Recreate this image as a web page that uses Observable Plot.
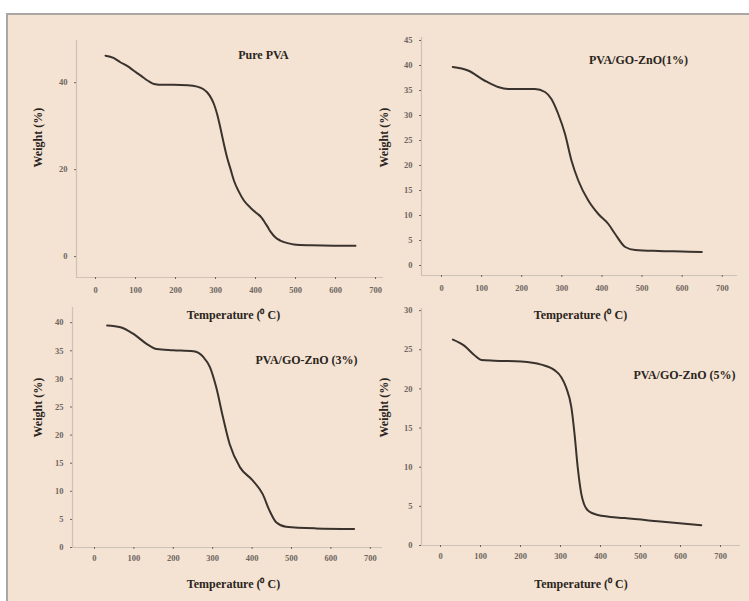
<!DOCTYPE html>
<html><head><meta charset="utf-8">
<script src="https://cdn.jsdelivr.net/npm/d3@7"></script>
<script src="https://cdn.jsdelivr.net/npm/@observablehq/plot@0.6"></script>
<style>
body{margin:0;background:#fff;}
#wrap{position:relative;width:749px;height:601px;overflow:hidden;background:#fff;}
#bg{position:absolute;left:6px;top:13px;right:0;bottom:0;background:#f4e3d3;border-left:2px solid #a9a6a4;border-top:2px solid #a9a6a4;}
#wrap svg{position:absolute;left:0;top:0;}
</style></head><body><div id="wrap"><div id="bg"></div></div>
<script>
// ---- data ----
const xTicks = [0, 100, 200, 300, 400, 500, 600, 700];
const xTitle = "Temperature (\u2070 C)";
const yTitle = "Weight (%)";

const pureName = "Pure PVA";
const pureT = [25, 45, 62, 80, 95, 115, 130, 146, 170, 196, 230, 254, 270, 279, 290, 296, 304, 312, 320, 329, 338, 346, 358, 371, 388, 404, 414, 421, 430, 438, 450, 462, 480, 496, 540, 596, 650];
const pureW = [46.2, 45.7, 44.7, 43.8, 42.8, 41.5, 40.5, 39.7, 39.5, 39.5, 39.4, 39.1, 38.5, 37.8, 36.3, 35.1, 32.8, 29.7, 26.3, 22.8, 20.0, 17.5, 15.0, 12.9, 11.2, 9.9, 9.1, 8.2, 6.9, 5.7, 4.4, 3.7, 3.1, 2.8, 2.6, 2.5, 2.5];
const pureYTicks = [0, 20, 40];

const zno1Name = "PVA/GO-ZnO(1%)";
const zno1T = [28, 66, 107, 141, 166, 200, 233, 258, 274, 291, 308, 324, 341, 366, 391, 416, 433, 458, 483, 541, 600, 649];
const zno1W = [39.7, 39.0, 37.0, 35.7, 35.3, 35.3, 35.3, 34.7, 33.3, 30.3, 26.3, 21.0, 17.0, 13.0, 10.3, 8.3, 6.3, 3.7, 3.1, 2.9, 2.8, 2.7];
const zno1YTicks = [0, 5, 10, 15, 20, 25, 30, 35, 40, 45];

const zno3Name = "PVA/GO-ZnO (3%)";
const zno3T = [32, 66, 99, 133, 158, 200, 251, 276, 293, 309, 326, 343, 369, 402, 427, 444, 461, 486, 562, 659];
const zno3W = [39.5, 39.2, 38.0, 36.2, 35.3, 35.1, 34.9, 33.9, 32.1, 28.5, 23.2, 18.4, 14.3, 11.9, 9.5, 6.6, 4.5, 3.7, 3.4, 3.3];
const zno3YTicks = [0, 5, 10, 15, 20, 25, 30, 35, 40];

const zno5Name = "PVA/GO-ZnO (5%)";
const zno5T = [31, 60, 85, 102, 135, 202, 252, 285, 302, 314, 327, 335, 343, 352, 368, 393, 460, 543, 652];
const zno5W = [26.3, 25.5, 24.3, 23.7, 23.6, 23.5, 23.1, 22.4, 21.5, 20.2, 17.7, 14.3, 10.0, 6.6, 4.5, 3.9, 3.5, 3.1, 2.6];
const zno5YTicks = [0, 5, 10, 15, 20, 25, 30];

// ---- layout ----
const W = 749, H = 601;
const panels = [
  {name: pureName, T: pureT, Wt: pureW, yTicks: pureYTicks, frame: [76, 383, 40, 277], xDomain: [-47.5, 720], yDomain: [-4.8, 49.7],
   yt: [-38, 8.5], xt: [3.5, 41], lab: [187, 10], xPad: 9},
  {name: zno1Name, T: zno1T, Wt: zno1W, yTicks: zno1YTicks, frame: [421, 737, 37, 275], xDomain: [-49.9, 738], yDomain: [-2, 45.6],
   yt: [-37, 11], xt: [1, 43], lab: [217, 18], xPad: 9},
  {name: zno3Name, T: zno3T, Wt: zno3W, yTicks: zno3YTicks, frame: [72, 382, 307, 547], xDomain: [-55.8, 731], yDomain: [0, 42.7],
   yt: [-34, 10], xt: [6, 40], lab: [234, 48], xPad: 7},
  {name: zno5Name, T: zno5T, Wt: zno5W, yTicks: zno5YTicks, frame: [421, 740, 308, 545], xDomain: [-47.5, 750], yDomain: [0, 30.27],
   yt: [-37, 10.5], xt: [0, 42], lab: [263, 62], xPad: 7}
];

const lineColor = "#cdc2b6";
const tickText = "#6e665f";
const inkColor = "#3a332d";
const serif = "Liberation Serif, Times New Roman, serif";

const wrap = document.getElementById("wrap");
for (const p of panels) {
  const data = p.T.map((t, i) => ({t, w: p.Wt[i]}));
  const [L, R, T, B] = p.frame;
  const chart = Plot.plot({
    width: W, height: H,
    marginLeft: L, marginRight: W - R, marginTop: T, marginBottom: H - B,
    style: {background: "transparent", overflow: "visible"},
    x: {domain: p.xDomain},
    y: {domain: p.yDomain},
    marks: [
      Plot.ruleY([p.yDomain[0]], {stroke: lineColor, strokeWidth: 1.2}),
      Plot.ruleX([p.xDomain[0]], {stroke: lineColor, strokeWidth: 1.2}),
      Plot.axisX({ticks: xTicks, tickSize: 2, tickPadding: p.xPad - 2, fontSize: 8.5, color: tickText, fontFamily: serif, fontWeight: "bold", label: null}),
      Plot.axisY({ticks: p.yTicks, tickSize: 2, tickPadding: 7, fontSize: 8.5, color: tickText, fontFamily: serif, fontWeight: "bold", label: null}),
      Plot.line(data, {x: "t", y: "w", stroke: inkColor, strokeWidth: 2, curve: "monotone-x"}),
      Plot.text([yTitle], {frameAnchor: "left", dx: p.yt[0], dy: p.yt[1], rotate: -90, fontSize: 12, fontWeight: "bold", fontFamily: serif, fill: "#2a2520"}),
      Plot.text([xTitle], {frameAnchor: "bottom", dx: p.xt[0], dy: p.xt[1], fontSize: 12, fontWeight: "bold", fontFamily: serif, fill: "#2a2520"}),
      Plot.text([p.name], {frameAnchor: "top-left", dx: p.lab[0], dy: p.lab[1], textAnchor: "middle", fontSize: 12, fontWeight: "bold", fontFamily: serif, fill: "#2a2520"})
    ]
  });
  wrap.appendChild(chart);
}
</script>
</body></html>
